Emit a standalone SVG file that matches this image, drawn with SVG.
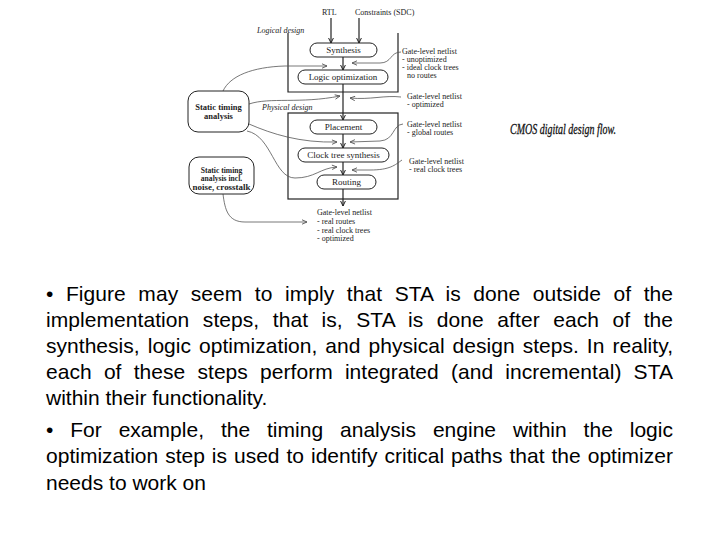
<svg xmlns="http://www.w3.org/2000/svg" width="720" height="540" viewBox="0 0 720 540">
<defs>
<marker id="a" viewBox="0 0 6 6" refX="5.5" refY="3" markerWidth="6" markerHeight="6" markerUnits="userSpaceOnUse" orient="auto">
<path d="M0.5,0.6 L5.5,3 L0.5,5.4" fill="none" stroke="#222" stroke-width="1"/>
</marker>
<marker id="c" viewBox="0 0 6 6" refX="5.5" refY="3" markerWidth="6" markerHeight="6" markerUnits="userSpaceOnUse" orient="auto">
<path d="M0.5,0.8 L5.5,3 L0.5,5.2" fill="none" stroke="#555" stroke-width="0.9"/>
</marker>
</defs>
<style>
.dt{font-family:"Liberation Serif","Times New Roman",serif;font-size:8px;fill:#222}
.bl{font-family:"Liberation Serif","Times New Roman",serif;font-size:9px;fill:#222;text-anchor:middle}
.sb{font-family:"Liberation Serif","Times New Roman",serif;font-size:8.5px;font-weight:bold;fill:#222;text-anchor:middle}
.sn{font-family:"Liberation Serif","Times New Roman",serif;font-size:7.6px;font-weight:bold;fill:#222;text-anchor:middle}
.it{font-style:italic}
.box{fill:#fff;stroke:#222;stroke-width:1}
.frame{fill:none;stroke:#222;stroke-width:1.2}
.ar{fill:none;stroke:#222;stroke-width:1.2}
.cv{fill:none;stroke:#555;stroke-width:0.8}
.body{font-family:"Liberation Sans",Arial,sans-serif;font-size:21px;fill:#000}
</style>
<rect width="720" height="540" fill="#fff"/>

<g id="frames">
<path class="frame" d="M288,33 V92 H398 V33"/>
<rect class="frame" x="288" y="113" width="110" height="86"/>
<text class="dt it" x="257" y="33">Logical design</text>
<text class="dt it" x="262" y="110">Physical design</text>
</g>

<g id="connectors">
<path class="ar" d="M331,18 V43" marker-end="url(#a)"/>
<path class="ar" d="M359,18 V43" marker-end="url(#a)"/>
<path class="ar" d="M343,57 V70" marker-end="url(#a)"/>
<path class="ar" d="M343,84 V120" marker-end="url(#a)"/>
<path class="ar" d="M343,134 V148" marker-end="url(#a)"/>
<path class="ar" d="M343,162 V175" marker-end="url(#a)"/>
<path class="ar" d="M343,189 V206" marker-end="url(#a)"/>
<path class="cv" d="M223,91 C230,76 252,67 285,66 L327,66" marker-end="url(#c)"/>
<path class="cv" d="M249,104 C270,97 300,104 340,96" marker-end="url(#c)"/>
<path class="cv" d="M249,124 C272,134 300,143 337,142" marker-end="url(#c)"/>
<path class="cv" d="M247,131 C272,136 274,178 295,178 C315,178 320,168 337,167" marker-end="url(#c)"/>
<path class="cv" d="M223,194 C225,210 228,222 245,222 L307,222" marker-end="url(#c)"/>
<path class="cv" d="M401,52 C390,52 392,63 380,63 L352,63" marker-end="url(#c)"/>
<path class="cv" d="M401,97 C385,95 370,100 350,98" marker-end="url(#c)"/>
<path class="cv" d="M403,124 C392,125 395,140 380,141 L350,142" marker-end="url(#c)"/>
<path class="cv" d="M402,160 C395,165 390,170 370,170 L352,170" marker-end="url(#c)"/>
</g>

<g id="inputs">
<text class="dt" x="322" y="15">RTL</text>
<text class="dt" x="355" y="15">Constraints (SDC)</text>
</g>

<g id="synthesis">
<rect class="box" x="310" y="43" width="67" height="14" rx="7"/>
<text class="bl" x="343.5" y="53">Synthesis</text>
</g>
<g id="logicopt">
<rect class="box" x="298" y="70" width="90" height="14" rx="7"/>
<text class="bl" x="343" y="80">Logic optimization</text>
</g>
<g id="placement">
<rect class="box" x="310" y="120" width="67" height="14" rx="7"/>
<text class="bl" x="343.5" y="130">Placement</text>
</g>
<g id="cts">
<rect class="box" x="298" y="148" width="91" height="14" rx="7"/>
<text class="bl" x="343.5" y="158">Clock tree synthesis</text>
</g>
<g id="routing">
<rect class="box" x="317" y="175" width="59" height="14" rx="7"/>
<text class="bl" x="346.5" y="185">Routing</text>
</g>

<g id="sta">
<rect class="box" x="188" y="91" width="61" height="41" rx="10"/>
<text class="sb" x="218.5" y="110">Static timing</text>
<text class="sb" x="218.5" y="119">analysis</text>
</g>
<g id="sta-noise">
<rect class="box" x="189" y="157" width="65" height="37" rx="10"/>
<text class="sn" x="221.5" y="172.5">Static timing</text>
<text class="sn" x="221.5" y="181">analysis incl.</text>
<text class="sn" x="221.5" y="189.5" textLength="58" lengthAdjust="spacingAndGlyphs">noise, crosstalk</text>
</g>

<g id="netlist1">
<text class="dt" x="402" y="54">Gate-level netlist</text>
<text class="dt" x="402" y="62">- unoptimized</text>
<text class="dt" x="402" y="70">- ideal clock trees</text>
<text class="dt" x="407" y="78">no routes</text>
</g>
<g id="netlist2">
<text class="dt" x="407" y="99">Gate-level netlist</text>
<text class="dt" x="407" y="107">- optimized</text>
</g>
<g id="netlist3">
<text class="dt" x="407" y="127">Gate-level netlist</text>
<text class="dt" x="407" y="135">- global routes</text>
</g>
<g id="netlist4">
<text class="dt" x="409" y="164">Gate-level netlist</text>
<text class="dt" x="409" y="172">- real clock trees</text>
</g>
<g id="netlist5">
<text class="dt" x="317" y="215">Gate-level netlist</text>
<text class="dt" x="317" y="224">- real routes</text>
<text class="dt" x="317" y="232.5">- real clock trees</text>
<text class="dt" x="317" y="241">- optimized</text>
</g>

<g id="caption">
<text x="510" y="134" font-family="Liberation Serif, serif" font-style="italic" font-size="15" fill="#111" stroke="#111" stroke-width="0.3" textLength="106" lengthAdjust="spacingAndGlyphs">CMOS digital design flow.</text>
</g>

<g id="bodytext">
<text class="body" x="46" y="301" word-spacing="6.6" textLength="627" lengthAdjust="spacing">• Figure may seem to imply that STA is done outside of the</text>
<text class="body" x="46" y="327" word-spacing="7.6" textLength="627" lengthAdjust="spacing">implementation steps, that is, STA is done after each of the</text>
<text class="body" x="46" y="353" word-spacing="2.1" textLength="627" lengthAdjust="spacing">synthesis, logic optimization, and physical design steps. In reality,</text>
<text class="body" x="46" y="379" word-spacing="6.3" textLength="627" lengthAdjust="spacing">each of these steps perform integrated (and incremental) STA</text>
<text class="body" x="46" y="405">within their functionality.</text>
<text class="body" x="46" y="437" word-spacing="11" textLength="627" lengthAdjust="spacing">• For example, the timing analysis engine within the logic</text>
<text class="body" x="46" y="463" word-spacing="1.1" textLength="627" lengthAdjust="spacing">optimization step is used to identify critical paths that the optimizer</text>
<text class="body" x="46" y="490">needs to work on</text>
</g>
</svg>
